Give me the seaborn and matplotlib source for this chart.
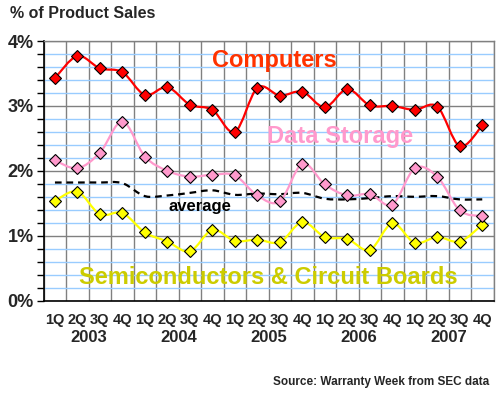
import matplotlib
matplotlib.use('Agg')
import matplotlib.pyplot as plt
from matplotlib.path import Path
from matplotlib.patches import PathPatch
import seaborn as sns
import pandas as pd
import numpy as np

# data (percent of product sales)
quarters = ['1Q', '2Q', '3Q', '4Q'] * 5
years = ['2003', '2004', '2005', '2006', '2007']

computers = [3.43, 3.77, 3.58, 3.52, 3.17, 3.29, 3.02, 2.94,
             2.60, 3.28, 3.16, 3.22, 2.98, 3.26, 3.01, 3.00,
             2.94, 2.99, 2.38, 2.70]
data_storage = [2.16, 2.04, 2.28, 2.76, 2.22, 2.00, 1.91, 1.94,
                1.93, 1.62, 1.53, 2.11, 1.79, 1.62, 1.64, 1.48,
                2.04, 1.91, 1.39, 1.30]
semiconductors = [1.54, 1.68, 1.33, 1.35, 1.05, 0.91, 0.76, 1.09,
                  0.92, 0.94, 0.90, 1.21, 0.98, 0.95, 0.78, 1.19,
                  0.89, 0.98, 0.91, 1.17]
average = [1.82, 1.82, 1.82, 1.81, 1.61, 1.62, 1.66, 1.70,
           1.63, 1.65, 1.64, 1.66, 1.57, 1.56, 1.58, 1.61,
           1.60, 1.61, 1.56, 1.56]

df = pd.DataFrame({
    'idx': np.arange(len(computers)),
    'Computers': computers,
    'Data Storage': data_storage,
    'Semiconductors': semiconductors,
    'average': average,
})


def smooth_line(ax, x, y, **kw):
    # excel style smoothed line: bezier segments through the data points
    x = np.asarray(x, float)
    y = np.asarray(y, float)
    n = len(x)
    verts = [(x[0], y[0])]
    codes = [Path.MOVETO]
    for i in range(n - 1):
        xp, yp = (x[i - 1], y[i - 1]) if i > 0 else (x[i], y[i])
        xn, yn = (x[i + 2], y[i + 2]) if i + 2 < n else (x[i + 1], y[i + 1])
        c1 = (x[i] + (x[i + 1] - xp) / 6, y[i] + (y[i + 1] - yp) / 6)
        c2 = (x[i + 1] - (xn - x[i]) / 6, y[i + 1] - (yn - y[i]) / 6)
        verts += [c1, c2, (x[i + 1], y[i + 1])]
        codes += [Path.CURVE4] * 3
    ax.add_patch(PathPatch(Path(verts, codes), fill=False, **kw))


sns.set_style('white')
plt.rcParams['font.family'] = ['Liberation Sans', 'DejaVu Sans']
plt.rcParams['font.weight'] = 'bold'

fig = plt.figure(figsize=(5, 3.95), dpi=100)
ax = fig.add_axes([0.0874, 0.239, 0.8996, 0.657])
ax.set_axisbelow(True)

series = [
    ('average', 'black', None, 3),
    ('Semiconductors', '#FFFF00', '#FFFF00', 4),
    ('Data Storage', '#FF99CC', '#FF99CC', 5),
    ('Computers', '#FF0000', '#FF0000', 6),
]
for name, col, face, z in series:
    if face is None:
        smooth_line(ax, df['idx'], df[name], edgecolor=col, lw=1.6,
                    linestyle=(0, (3, 2.2)), zorder=z)
        continue
    smooth_line(ax, df['idx'], df[name], edgecolor=col, lw=1.6, zorder=z)
    sns.lineplot(x='idx', y=name, data=df, linestyle='', marker='D',
                 markersize=6, markerfacecolor=face, markeredgecolor='black',
                 markeredgewidth=0.8, ax=ax, zorder=z + 0.5)

ax.set_xlim(-0.5, len(computers) - 0.5)
ax.set_ylim(0, 4)

# y axis: major every 1 %, minor every 0.2 %
ax.set_yticks([0, 1, 2, 3, 4])
ax.set_yticklabels(['0%', '1%', '2%', '3%', '4%'], fontsize=13, fontweight='bold')
ax.set_yticks(np.arange(0, 4.01, 0.2), minor=True)

# x axis: labels at centres, tick marks at boundaries
ax.set_xticks(df['idx'])
ax.set_xticklabels(quarters, fontsize=10.5, fontweight='bold')
ax.set_xticks(np.arange(-0.5, len(computers), 1), minor=True)
ax.tick_params(axis='x', which='major', length=0, pad=9)
ax.tick_params(axis='x', which='minor', length=5, width=1, color='black', direction='out')
ax.tick_params(axis='y', which='both', length=5, width=1, color='black', direction='out', left=True)
ax.tick_params(axis='y', which='major', pad=2)

ax.grid(axis='x', which='minor', color='#808080', lw=1)
ax.grid(axis='y', which='minor', color='#99CCFF', lw=1)
ax.grid(axis='y', which='major', color='#808080', lw=1)
ax.grid(axis='x', which='major', visible=False)

for s in ['top', 'right']:
    ax.spines[s].set_color('#808080')
    ax.spines[s].set_linewidth(1)
for s in ['left', 'bottom']:
    ax.spines[s].set_color('black')
    ax.spines[s].set_linewidth(1.2)

ax.set_xlabel('')
ax.set_ylabel('')

# year labels under each group of quarters
for i, yr in enumerate(years):
    ax.text(i * 4 + 1.5, -0.142, yr, transform=ax.get_xaxis_transform(),
            ha='center', va='center', fontsize=12, fontweight='bold')

# series names inside the plot
ax.text(274 / 500, 1 - 60 / 395, 'Computers', transform=fig.transFigure,
        ha='center', va='center', fontsize=17, fontweight='bold', color='#FF3300')
ax.text(340 / 500, 1 - 137 / 395, 'Data Storage', transform=fig.transFigure,
        ha='center', va='center', fontsize=17, fontweight='bold', color='#FF99CC')
ax.text(200 / 500, 1 - 207 / 395, 'average', transform=fig.transFigure,
        ha='center', va='center', fontsize=12, fontweight='bold', color='black')
ax.text(268 / 500, 1 - 277 / 395, 'Semiconductors & Circuit Boards', transform=fig.transFigure,
        ha='center', va='center', fontsize=17, fontweight='bold', color='#CCCC00')

fig.text(10 / 500, 1 - 14 / 395, '% of Product Sales', ha='left', va='center',
         fontsize=11.5, fontweight='bold')
fig.text(489 / 500, 1 - 382 / 395, 'Source: Warranty Week from SEC data',
         ha='right', va='center', fontsize=8.5, fontweight='bold')

fig.savefig('out.png', dpi=100)
plt.close()
